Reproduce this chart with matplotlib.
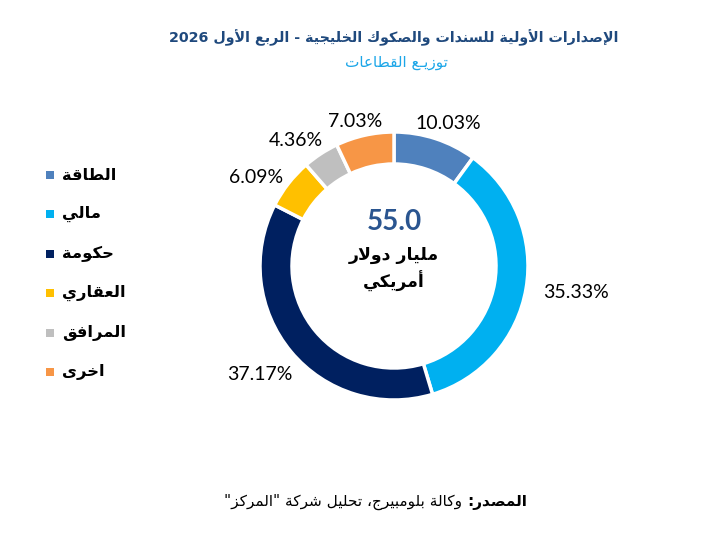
import numpy as np
import matplotlib
matplotlib.use('Agg')
import matplotlib.pyplot as plt

# ---- data ----
sectors = ['الطاقة', 'مالي', 'حكومة', 'العقاري', 'المرافق', 'اخرى']
shares = [10.03, 35.33, 37.17, 6.09, 4.36, 7.03]
colors = ['#4F81BD', '#00B0F0', '#002060', '#FFC000', '#BFBFBF', '#F79646']
total_value = '55.0'
total_unit = ['مليار دولار', 'أمريكي']
title = 'الإصدارات الأولية للسندات والصكوك الخليجية - الربع الأول 2026'
subtitle = 'توزيـع القطاعات'
source_head = 'المصدر:'
source_body = 'وكالة بلومبيرج، تحليل شركة "المركز"'

# ---- minimal arabic shaping (matplotlib has no bidi / joining) ----
_letters = [('ء', 0xFE80, 1), ('آ', 0xFE81, 2), ('أ', 0xFE83, 2), ('ؤ', 0xFE85, 2),
            ('إ', 0xFE87, 2), ('ئ', 0xFE89, 4), ('ا', 0xFE8D, 2), ('ب', 0xFE8F, 4),
            ('ة', 0xFE93, 2), ('ت', 0xFE95, 4), ('ث', 0xFE99, 4), ('ج', 0xFE9D, 4),
            ('ح', 0xFEA1, 4), ('خ', 0xFEA5, 4), ('د', 0xFEA9, 2), ('ذ', 0xFEAB, 2),
            ('ر', 0xFEAD, 2), ('ز', 0xFEAF, 2), ('س', 0xFEB1, 4), ('ش', 0xFEB5, 4),
            ('ص', 0xFEB9, 4), ('ض', 0xFEBD, 4), ('ط', 0xFEC1, 4), ('ظ', 0xFEC5, 4),
            ('ع', 0xFEC9, 4), ('غ', 0xFECD, 4), ('ف', 0xFED1, 4), ('ق', 0xFED5, 4),
            ('ك', 0xFED9, 4), ('ل', 0xFEDD, 4), ('م', 0xFEE1, 4), ('ن', 0xFEE5, 4),
            ('ه', 0xFEE9, 4), ('و', 0xFEED, 2), ('ى', 0xFEEF, 2), ('ي', 0xFEF1, 4)]
FORMS = {c: (base, n) for c, base, n in _letters}
LAM_ALEF = {'آ': 0xFEF5, 'أ': 0xFEF7, 'إ': 0xFEF9, 'ا': 0xFEFB}
TATWEEL = 'ـ'


def can_prev(tok):
    if tok[0] == 'LA':
        return True
    c = tok[1]
    return c == TATWEEL or (c in FORMS and FORMS[c][1] >= 2)


def can_next(tok):
    if tok[0] == 'LA':
        return False
    c = tok[1]
    return c == TATWEEL or (c in FORMS and FORMS[c][1] == 4)


def ar(text):
    toks = []
    i = 0
    while i < len(text):
        c = text[i]
        if c == 'ل' and i + 1 < len(text) and text[i + 1] in LAM_ALEF:
            toks.append(('LA', text[i + 1]))
            i += 2
        else:
            toks.append(('C', c))
            i += 1
    out = []
    for j, t in enumerate(toks):
        jp = j > 0 and can_next(toks[j - 1]) and can_prev(t)
        jn = j < len(toks) - 1 and can_next(t) and can_prev(toks[j + 1])
        if t[0] == 'LA':
            out.append(chr(LAM_ALEF[t[1]] + (1 if jp else 0)))
        elif t[1] in FORMS:
            base, n = FORMS[t[1]]
            if n == 4:
                k = 3 if (jp and jn) else 1 if jp else 2 if jn else 0
            elif n == 2:
                k = 1 if jp else 0
            else:
                k = 0
            out.append(chr(base + k))
        else:
            out.append(t[1])
    # visual order: reverse, but keep latin / digit runs left-to-right
    out = out[::-1]
    res, run = [], []
    for ch in out:
        if ch.isascii() and (ch.isalnum() or ch in '.%'):
            run.append(ch)
        else:
            res.extend(run[::-1])
            run = []
            res.append(ch)
    res.extend(run[::-1])
    return ''.join(res)


AR = ['DejaVu Sans']
NUM = ['Lato', 'DejaVu Sans']

W, H = 706, 537
fig = plt.figure(figsize=(W / 100, H / 100), dpi=100)
ax = fig.add_axes([0, 0, 1, 1])
ax.set_xlim(0, W)
ax.set_ylim(0, H)
ax.set_aspect('equal')
ax.axis('off')

cx, cy, R = 394, H - 266, 134
wedges, _ = ax.pie(shares, colors=colors, startangle=90, counterclock=False,
                   center=(cx, cy), radius=R,
                   wedgeprops=dict(width=32, edgecolor='white', linewidth=2.5))
ax.set_xlim(0, W)
ax.set_ylim(0, H)

# percent labels outside the ring (excel "best fit" style nudges)
label_turn = [-2.6, 1.5, -0.8, 5.4, 4.9, 2.4]   # degrees off the wedge middle
label_dist = [1.14, 1.37, 1.29, 1.22, 1.19, 1.12]  # in ring radii
for w, v, dt, f in zip(wedges, shares, label_turn, label_dist):
    th = np.deg2rad((w.theta1 + w.theta2) / 2 + dt)
    ax.text(cx + f * R * np.cos(th), cy + f * R * np.sin(th), f'{v:.2f}%',
            ha='center', va='center', fontsize=14, family=NUM, color='black')

# centre text
ax.text(cx, H - 222, total_value, ha='center', va='center', fontsize=20,
        fontweight='bold', family=NUM, color='#2A5590')
ax.text(cx, H - 255, ar(total_unit[0]), ha='center', va='center', fontsize=12.5,
        fontweight='bold', family=AR, color='black')
ax.text(cx, H - 281, ar(total_unit[1]), ha='center', va='center', fontsize=12.5,
        fontweight='bold', family=AR, color='black')

# legend
for i, (name, c) in enumerate(zip(sectors, colors)):
    y = H - 175 - i * 39.4
    ax.scatter([49.5], [y], marker='s', s=40, color=c, linewidths=0)
    ax.text(62, y, ar(name), ha='left', va='center', fontsize=11.8,
            fontweight='bold', family=AR, color='black')

# titles
ax.text(cx, H - 38, ar(title), ha='center', va='center', fontsize=10.3,
        fontweight='bold', family=AR, color='#1F497D')
ax.text(396, H - 62, ar(subtitle), ha='center', va='center', fontsize=11,
        family=AR, color='#1CA6E8')

# source line: bold head on the right, regular body to its left
head = ax.text(527, H - 502, ar(source_head), ha='right', va='center',
               fontsize=11, fontweight='bold', family=AR, color='black')
ax.annotate(ar(source_body) + ' ', xy=(0, 0.5), xycoords=head, ha='right',
            va='center', fontsize=11, family=AR, color='black')

fig.savefig('out.png', dpi=100)
